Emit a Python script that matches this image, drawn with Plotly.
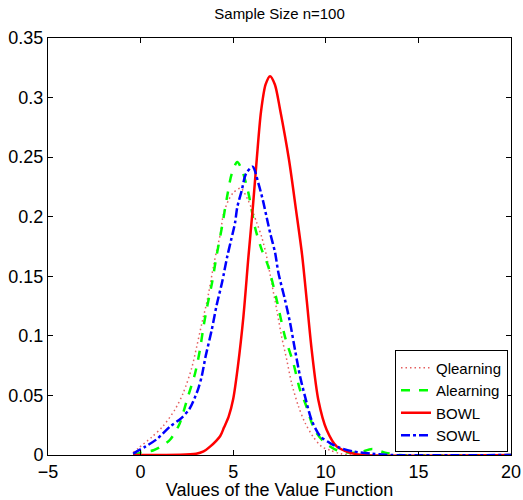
import plotly.graph_objects as go

# Qlearning (red dotted)
q_x = [-0.4, -0.1, 0.6, 1.2, 1.85, 2.3, 2.76, 3.03, 3.3, 3.6, 3.93, 4.11, 4.3, 4.47, 4.75, 5.0, 5.4, 5.8, 6.27, 6.54, 6.8, 7.08, 7.35, 7.62, 7.89, 8.16, 8.52, 8.88, 9.33, 9.78, 10.23, 10.8, 11.5, 20.0]
q_y = [0.002, 0.006, 0.015, 0.024, 0.038, 0.052, 0.073, 0.091, 0.110, 0.130, 0.158, 0.172, 0.185, 0.202, 0.214, 0.220, 0.224, 0.214, 0.195, 0.183, 0.167, 0.144, 0.122, 0.099, 0.080, 0.060, 0.041, 0.027, 0.015, 0.007, 0.004, 0.001, 0.0, 0.0]

# Alearning (green dashed)
a_x = [-0.4, 0.0, 0.7, 1.2, 1.6, 2.1, 2.5, 2.95, 3.2, 3.4, 3.6, 3.85, 4.1, 4.4, 4.65, 4.92, 5.22, 5.5, 5.82, 6.18, 6.5, 6.9, 7.35, 7.8, 8.25, 8.6, 8.9, 9.4, 9.9, 10.6, 11.3, 11.8, 12.5, 13.2, 14.0, 20.0]
a_y = [0.0, 0.002, 0.004, 0.008, 0.013, 0.026, 0.046, 0.069, 0.088, 0.108, 0.125, 0.144, 0.167, 0.192, 0.215, 0.236, 0.246, 0.238, 0.220, 0.191, 0.174, 0.158, 0.130, 0.099, 0.077, 0.055, 0.043, 0.021, 0.011, 0.004, 0.002, 0.002, 0.005, 0.002, 0.0, 0.0]

# BOWL (red solid)
b_x = [-0.4, 3.0, 3.4, 3.75, 4.3, 4.5, 4.75, 5.0, 5.25, 5.55, 5.82, 6.05, 6.27, 6.5, 6.75, 6.99, 7.25, 7.53, 8.01, 8.39, 8.72, 8.97, 9.24, 9.6, 10.05, 10.6, 11.3, 12.0, 20.0]
b_y = [0.0, 0.001, 0.003, 0.007, 0.016, 0.023, 0.032, 0.047, 0.074, 0.116, 0.166, 0.206, 0.248, 0.288, 0.311, 0.318, 0.311, 0.290, 0.248, 0.206, 0.168, 0.130, 0.088, 0.046, 0.021, 0.007, 0.002, 0.0, 0.0]

# SOWL (blue dash-dot)
s_x = [-0.4, -0.2, 0.25, 0.85, 1.6, 2.2, 2.65, 2.95, 3.12, 3.3, 3.5, 3.84, 4.11, 4.4, 4.67, 4.88, 5.1, 5.22, 5.46, 5.69, 6.05, 6.36, 6.6, 6.8, 7.0, 7.26, 7.44, 7.8, 8.07, 8.34, 8.61, 8.88, 9.24, 9.69, 10.23, 10.77, 11.5, 12.5, 13.5, 20.0]
s_y = [0.001, 0.003, 0.007, 0.013, 0.024, 0.031, 0.039, 0.049, 0.056, 0.066, 0.082, 0.105, 0.126, 0.145, 0.166, 0.180, 0.195, 0.208, 0.222, 0.236, 0.242, 0.228, 0.214, 0.200, 0.186, 0.170, 0.153, 0.130, 0.111, 0.088, 0.066, 0.049, 0.029, 0.016, 0.010, 0.006, 0.003, 0.001, 0.0, 0.0]

x_ticks = [-5, 0, 5, 10, 15, 20]
y_ticks = [0, 0.05, 0.1, 0.15, 0.2, 0.25, 0.3, 0.35]

FONT = "Liberation Sans, Arial, Helvetica, sans-serif"

fig = go.Figure()
fig.add_trace(go.Scatter(x=q_x, y=q_y, name="Qlearning", mode="lines",
                         line=dict(color="rgb(228,95,95)", width=1.5, dash="1.5px,3px", shape="spline", smoothing=0.8)))
fig.add_trace(go.Scatter(x=a_x, y=a_y, name="Alearning", mode="lines",
                         line=dict(color="rgb(0,255,0)", width=2.5, dash="dash", shape="spline", smoothing=0.8)))
fig.add_trace(go.Scatter(x=b_x, y=b_y, name="BOWL", mode="lines",
                         line=dict(color="rgb(255,0,0)", width=2.5, shape="spline", smoothing=0.8)))
fig.add_trace(go.Scatter(x=s_x, y=s_y, name="SOWL", mode="lines",
                         line=dict(color="rgb(0,0,255)", width=2.5, dash="dashdot", shape="spline", smoothing=0.8)))

fig.update_layout(
    width=523, height=500,
    margin=dict(l=48, r=12, t=38, b=45),
    paper_bgcolor="white", plot_bgcolor="white",
    font=dict(family=FONT, size=18, color="black"),
    title=dict(text="Sample Size n=100", x=0.5345, xanchor="center", y=0.972, yanchor="middle",
               font=dict(size=15, family=FONT, color="black")),
    legend=dict(x=0.9935, y=0.006, xanchor="right", yanchor="bottom",
                bgcolor="white", bordercolor="black", borderwidth=1,
                font=dict(size=15, family=FONT, color="black"),
                tracegroupgap=0, itemwidth=30),
    showlegend=True,
)
fig.update_xaxes(range=[-5, 20], tickvals=x_ticks, ticks="inside", ticklen=5, tickcolor="black",
                 showline=True, linecolor="black", linewidth=1, mirror="ticks",
                 showgrid=False, zeroline=False, tickfont=dict(size=18), automargin=False,
                 title=dict(text="Values of the Value Function", font=dict(size=18), standoff=2))
fig.update_yaxes(range=[0, 0.35], tickvals=y_ticks, ticks="inside", ticklen=5, tickcolor="black",
                 showline=True, linecolor="black", linewidth=1, mirror="ticks",
                 showgrid=False, zeroline=False, tickfont=dict(size=18), automargin=False)

fig.write_html("out.html", config={"displayModeBar": False},
               post_script="document.body.style.margin='0px'; document.body.style.overflow='hidden';")
